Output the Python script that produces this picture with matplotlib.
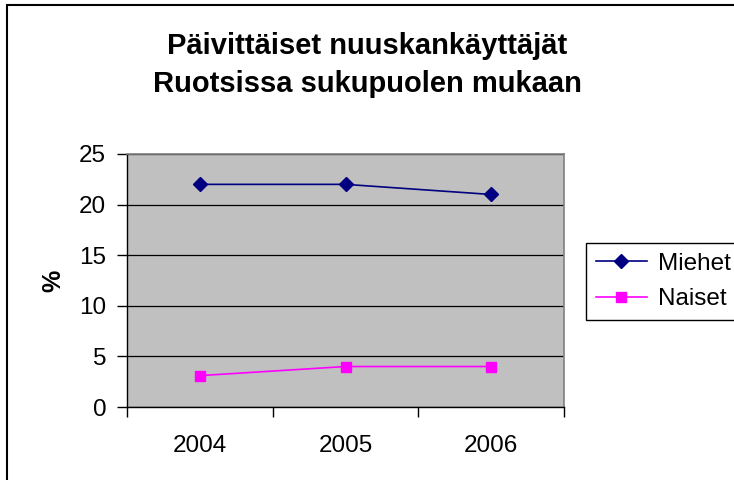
import matplotlib.pyplot as plt
from matplotlib.patches import Rectangle
from matplotlib.lines import Line2D

# Data
years = ['2004', '2005', '2006']
miehet = [22, 22, 21]
naiset = [3.1, 4, 4]

plt.rcParams['font.family'] = ['Liberation Sans', 'DejaVu Sans']

W, H = 734, 480
fig = plt.figure(figsize=(W / 100, H / 100), dpi=100)

# outer chart border (right and bottom edges fall outside the picture)
fig.patches.append(Rectangle((7 / W, -0.1), 1.2, 1.1 - 5 / H, transform=fig.transFigure,
                             fill=False, edgecolor='black', linewidth=1.5))

ax = fig.add_axes([127 / W, 1 - 407 / H, (564 - 127) / W, (407 - 154) / H])
ax.set_facecolor('#C0C0C0')

x = list(range(len(years)))
ax.plot(x, miehet, color='#000080', marker='D', markersize=7.5, linewidth=1.2, label='Miehet')
ax.plot(x, naiset, color='#FF00FF', marker='s', markersize=7, linewidth=1.2, label='Naiset')

ax.set_xlim(-0.5, 2.5)
ax.set_ylim(0, 25)
ax.set_yticks([0, 5, 10, 15, 20, 25])
ax.yaxis.grid(True, color='black', linewidth=0.9)
ax.set_axisbelow(True)

# category boundaries as tick marks, labels centred
ax.set_xticks([-0.5, 0.5, 1.5, 2.5])
ax.set_xticklabels([])
ax.set_xticks(x, minor=True)
ax.set_xticklabels(years, minor=True)
ax.tick_params(axis='x', which='major', length=7, width=1, direction='out')
ax.tick_params(axis='x', which='minor', length=0, pad=20, labelsize=17.5)
ax.tick_params(axis='y', length=7, width=1, direction='out', pad=8, labelsize=17.5)

for side in ['top', 'right']:
    ax.spines[side].set_color('#808080')
    ax.spines[side].set_linewidth(1.2)
for side in ['left', 'bottom']:
    ax.spines[side].set_color('black')
    ax.spines[side].set_linewidth(1)

ax.set_ylabel('%', fontsize=18, fontweight='bold', labelpad=10)

fig.text(0.5, 1 - 46 / H, 'Päivittäiset nuuskankäyttäjät', ha='center', va='center',
         fontsize=21, fontweight='bold')
fig.text(0.5, 1 - 84 / H, 'Ruotsissa sukupuolen mukaan', ha='center', va='center',
         fontsize=21, fontweight='bold')

handles = [Line2D([], [], color='#000080', marker='D', markersize=7.5, linewidth=1.2),
           Line2D([], [], color='#FF00FF', marker='s', markersize=7, linewidth=1.2)]
leg = fig.legend(handles, ['Miehet', 'Naiset'], loc='upper left',
                 bbox_to_anchor=(586 / W, 1 - 243 / H), fontsize=17.5,
                 frameon=True, fancybox=False, framealpha=1, edgecolor='black',
                 handlelength=2.1, handletextpad=0.45, borderpad=0.4, labelspacing=0.55,
                 borderaxespad=0)
leg.get_frame().set_linewidth(1)

fig.savefig('out.png', dpi=100, facecolor='white')
